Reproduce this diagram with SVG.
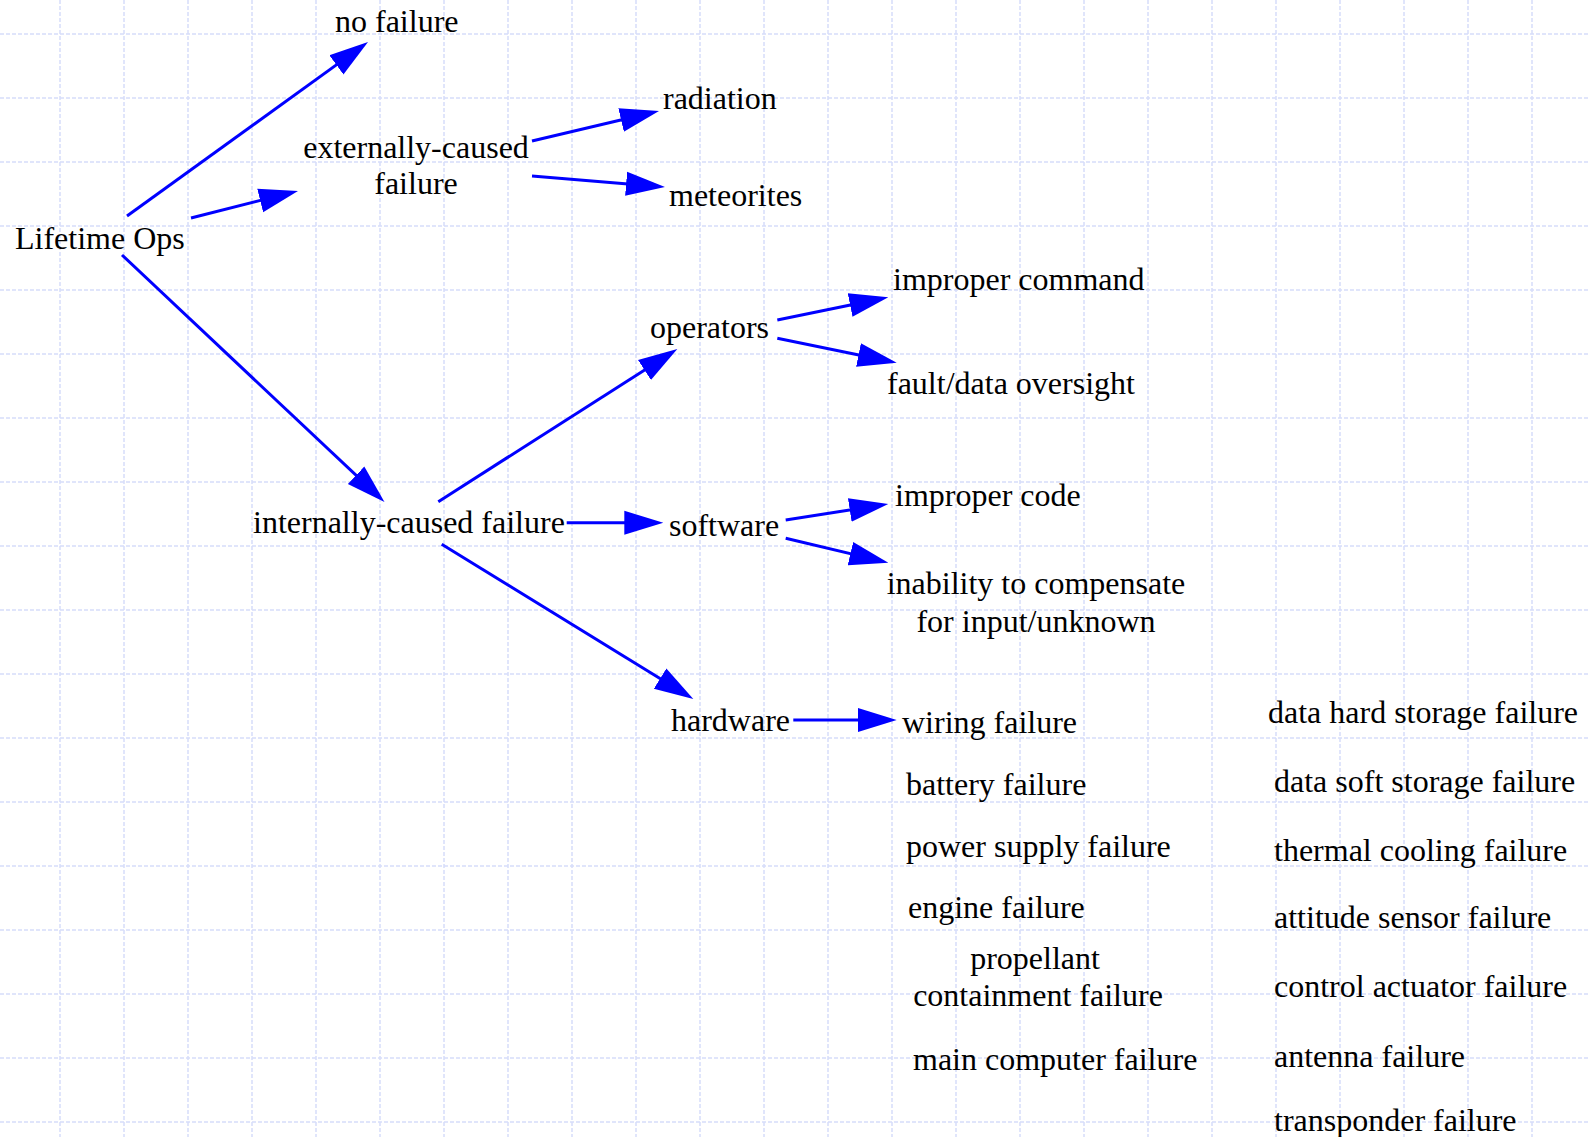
<svg xmlns="http://www.w3.org/2000/svg" width="1588" height="1137" viewBox="0 0 1588 1137">
<style>
.grid line{stroke:#d6ddfa;stroke-width:1.5;stroke-dasharray:4 2}
.t{font-family:"Liberation Serif","Times New Roman",serif;font-size:32px;fill:#000}
.c{text-anchor:middle}
.conn line{stroke:#0000ff;stroke-width:3;fill:none;marker-end:url(#ah)}
</style>
<defs>
<marker id="ah" markerUnits="userSpaceOnUse" markerWidth="40" markerHeight="26" viewBox="0 -13 40 26" refX="29" refY="0" orient="auto">
<path d="M0,-12 L39,0 L0,12 z" fill="#0000ff"/>
</marker>
</defs>
<rect width="1588" height="1137" fill="#fff"/>
<g class="grid">
<line x1="60" y1="0" x2="60" y2="1137"/><line x1="124" y1="0" x2="124" y2="1137"/><line x1="188" y1="0" x2="188" y2="1137"/><line x1="252" y1="0" x2="252" y2="1137"/><line x1="316" y1="0" x2="316" y2="1137"/><line x1="380" y1="0" x2="380" y2="1137"/><line x1="444" y1="0" x2="444" y2="1137"/><line x1="508" y1="0" x2="508" y2="1137"/><line x1="572" y1="0" x2="572" y2="1137"/><line x1="636" y1="0" x2="636" y2="1137"/><line x1="700" y1="0" x2="700" y2="1137"/><line x1="764" y1="0" x2="764" y2="1137"/><line x1="828" y1="0" x2="828" y2="1137"/><line x1="892" y1="0" x2="892" y2="1137"/><line x1="956" y1="0" x2="956" y2="1137"/><line x1="1020" y1="0" x2="1020" y2="1137"/><line x1="1084" y1="0" x2="1084" y2="1137"/><line x1="1148" y1="0" x2="1148" y2="1137"/><line x1="1212" y1="0" x2="1212" y2="1137"/><line x1="1276" y1="0" x2="1276" y2="1137"/><line x1="1340" y1="0" x2="1340" y2="1137"/><line x1="1404" y1="0" x2="1404" y2="1137"/><line x1="1468" y1="0" x2="1468" y2="1137"/><line x1="1532" y1="0" x2="1532" y2="1137"/>
<line x1="0" y1="34" x2="1588" y2="34"/><line x1="0" y1="98" x2="1588" y2="98"/><line x1="0" y1="162" x2="1588" y2="162"/><line x1="0" y1="226" x2="1588" y2="226"/><line x1="0" y1="290" x2="1588" y2="290"/><line x1="0" y1="354" x2="1588" y2="354"/><line x1="0" y1="418" x2="1588" y2="418"/><line x1="0" y1="482" x2="1588" y2="482"/><line x1="0" y1="546" x2="1588" y2="546"/><line x1="0" y1="610" x2="1588" y2="610"/><line x1="0" y1="674" x2="1588" y2="674"/><line x1="0" y1="738" x2="1588" y2="738"/><line x1="0" y1="802" x2="1588" y2="802"/><line x1="0" y1="866" x2="1588" y2="866"/><line x1="0" y1="930" x2="1588" y2="930"/><line x1="0" y1="994" x2="1588" y2="994"/><line x1="0" y1="1058" x2="1588" y2="1058"/><line x1="0" y1="1122" x2="1588" y2="1122"/>
</g>
<g class="conn">
<line x1="127" y1="216" x2="359.9" y2="47.9"/>
<line x1="191" y1="218" x2="288.3" y2="193.4"/>
<line x1="122" y1="255" x2="377.2" y2="495.1"/>
<line x1="532" y1="141" x2="649.3" y2="113.3"/>
<line x1="532" y1="176" x2="655" y2="186.2"/>
<line x1="438.3" y1="501.7" x2="668.9" y2="354.4"/>
<line x1="566.7" y1="522.7" x2="653.3" y2="522.7"/>
<line x1="441.7" y1="544.3" x2="684.8" y2="693.8"/>
<line x1="777.3" y1="320" x2="878.5" y2="299.3"/>
<line x1="777.3" y1="338.3" x2="886.9" y2="360.7"/>
<line x1="785.7" y1="520" x2="878.4" y2="505.5"/>
<line x1="785.7" y1="538.3" x2="878.6" y2="560.4"/>
<line x1="793.3" y1="720" x2="886.7" y2="720"/>
</g>
<g id="lifetime-ops"><text class="t" x="15" y="249">Lifetime Ops</text></g>
<g id="no-failure"><text class="t" x="335" y="32">no failure</text></g>
<g id="externally-caused-failure"><text class="t c" x="416" y="158">externally-caused</text><text class="t c" x="416" y="194">failure</text></g>
<g id="radiation"><text class="t" x="663" y="109">radiation</text></g>
<g id="meteorites"><text class="t" x="669" y="206">meteorites</text></g>
<g id="internally-caused-failure"><text class="t" x="253" y="533">internally-caused failure</text></g>
<g id="operators"><text class="t" x="650" y="338">operators</text></g>
<g id="improper-command"><text class="t" x="893" y="290">improper command</text></g>
<g id="fault-data-oversight"><text class="t" x="887" y="394">fault/data oversight</text></g>
<g id="software"><text class="t" x="669" y="536">software</text></g>
<g id="improper-code"><text class="t" x="895" y="506">improper code</text></g>
<g id="inability"><text class="t c" x="1036" y="594">inability to compensate</text><text class="t c" x="1036" y="632">for input/unknown</text></g>
<g id="hardware"><text class="t" x="671" y="731">hardware</text></g>
<g id="wiring-failure"><text class="t" x="902" y="733">wiring failure</text></g>
<g id="battery-failure"><text class="t" x="906" y="795">battery failure</text></g>
<g id="power-supply-failure"><text class="t" x="906" y="857">power supply failure</text></g>
<g id="engine-failure"><text class="t" x="908" y="918">engine failure</text></g>
<g id="propellant-containment-failure"><text class="t c" x="1035" y="969">propellant</text><text class="t c" x="1038" y="1006">containment failure</text></g>
<g id="main-computer-failure"><text class="t" x="913" y="1070">main computer failure</text></g>
<g id="data-hard-storage-failure"><text class="t" x="1268" y="723">data hard storage failure</text></g>
<g id="data-soft-storage-failure"><text class="t" x="1274" y="792">data soft storage failure</text></g>
<g id="thermal-cooling-failure"><text class="t" x="1274" y="861">thermal cooling failure</text></g>
<g id="attitude-sensor-failure"><text class="t" x="1274" y="928">attitude sensor failure</text></g>
<g id="control-actuator-failure"><text class="t" x="1274" y="997">control actuator failure</text></g>
<g id="antenna-failure"><text class="t" x="1274" y="1067">antenna failure</text></g>
<g id="transponder-failure"><text class="t" x="1274" y="1131">transponder failure</text></g>
</svg>
